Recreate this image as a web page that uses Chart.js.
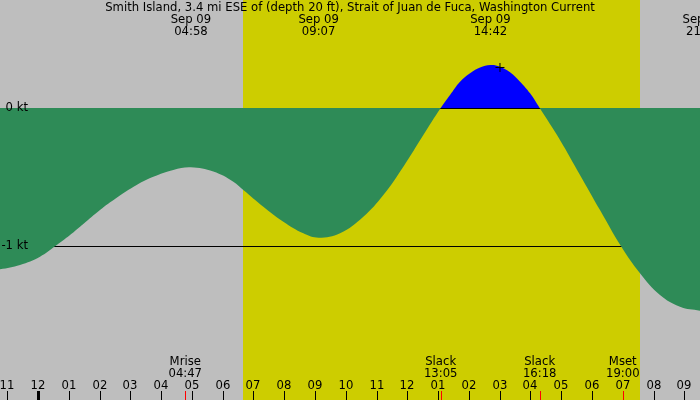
<!DOCTYPE html>
<html>
<head>
<meta charset="utf-8">
<title>Smith Island Current</title>
<script src="https://cdn.jsdelivr.net/npm/chart.js@4/dist/chart.umd.min.js"></script>
<style>
  html, body { margin: 0; padding: 0; background: #bebebe; }
  #wrap { width: 700px; height: 400px; position: relative; }
</style>
</head>
<body>
<div id="wrap"><canvas id="currentChart"></canvas></div>
<script>
// Current readings (hours after midnight Sep 09, knots; flood positive)
var currentHours = [-1.8, -1.237, -0.587, 0.063, 0.55, 1.038, 1.47, 2.012, 2.555, 3.312, 3.745, 4.395, 4.967, 5.695, 6.345, 6.67, 7.32, 7.97, 8.62, 9.117, 9.813, 10.57, 11.22, 11.87, 12.52, 13.083, 13.387, 13.712, 14.037, 14.362, 14.7, 15.012, 15.337, 15.662, 15.988, 16.3, 16.96, 17.61, 18.26, 18.945, 19.56, 20.21, 20.86, 21.51, 21.6, 22.2];
var currentKnots = [-1.18, -1.166, -1.135, -1.075, -1.0, -0.918, -0.838, -0.737, -0.649, -0.543, -0.497, -0.448, -0.429, -0.46, -0.533, -0.593, -0.714, -0.822, -0.906, -0.938, -0.906, -0.786, -0.629, -0.424, -0.195, 0.0, 0.094, 0.19, 0.251, 0.292, 0.311, 0.299, 0.258, 0.19, 0.106, 0.0, -0.231, -0.484, -0.738, -1.0, -1.195, -1.352, -1.437, -1.466, -1.47, -1.46];

// hour axis
var hourTicks = [-1, 0, 1, 2, 3, 4, 5, 6, 7, 8, 9, 10, 11, 12, 13, 14, 15, 16, 17, 18, 19, 20, 21];
var hourLabels = ['11', '12', '01', '02', '03', '04', '05', '06', '07', '08', '09', '10', '11', '12', '01', '02', '03', '04', '05', '06', '07', '08', '09'];

// knot reference lines
var knotLines = [0, -1];
var knotLabels = ['0 kt', '-1 kt'];

// max/min times shown along the top
var extremeHours = [4.967, 9.117, 14.7, 21.6];
var extremeDates = ['Sep 09', 'Sep 09', 'Sep 09', 'Sep 09'];
var extremeClock = ['04:58', '09:07', '14:42', '21:36'];

// slack / moon events along the bottom
var eventHours = [4.783, 13.083, 16.3, 19.0];
var eventNames = ['Mrise', 'Slack', 'Slack', 'Mset'];
var eventClock = ['04:47', '13:05', '16:18', '19:00'];

// daylight
var sunrise = 6.67;
var sunset = 19.56;

// marker on the flood
var markerHour = 15.01;
var markerKnots = 0.293;

var title = 'Smith Island, 3.4 mi ESE of (depth 20 ft), Strait of Juan de Fuca, Washington Current';

var FONT = '11.65px "DejaVu Sans"';

var backdrop = {
    id: 'backdrop',
    beforeDraw: function(chart) {
        var ctx = chart.ctx, x = chart.scales.x;
        ctx.save();
        ctx.fillStyle = '#bebebe';
        ctx.fillRect(0, 0, chart.width, chart.height);
        var x1 = Math.round(x.getPixelForValue(sunrise)), x2 = Math.round(x.getPixelForValue(sunset));
        ctx.fillStyle = '#cdcd00';
        ctx.fillRect(x1, 0, x2 - x1, chart.height);
        ctx.restore();
    },
    beforeDatasetsDraw: function(chart) {
        // reference lines sit under the fill, like the original
        var ctx = chart.ctx, y = chart.scales.y;
        ctx.save();
        ctx.fillStyle = '#000';
        knotLines.forEach(function(v) {
            ctx.fillRect(0, Math.round(y.getPixelForValue(v)), chart.width, 1);
        });
        ctx.restore();
    },
    afterDatasetsDraw: function(chart) {
        var ctx = chart.ctx, x = chart.scales.x, y = chart.scales.y;
        var h = chart.height;
        ctx.save();
        ctx.font = FONT;
        ctx.fillStyle = '#000';
        ctx.textBaseline = 'middle';

        // title
        ctx.textAlign = 'center';
        ctx.fillText(title, chart.width / 2, 8);

        // extremes
        extremeHours.forEach(function(t, i) {
            var px = x.getPixelForValue(t);
            ctx.fillText(extremeDates[i], px, 20);
            ctx.fillText(extremeClock[i], px, 32);
        });

        // knot labels
        ctx.textAlign = 'right';
        knotLines.forEach(function(v, i) {
            ctx.fillText(knotLabels[i], 28, y.getPixelForValue(v));
        });

        // hour ticks
        ctx.textAlign = 'center';
        hourTicks.forEach(function(t, i) {
            var px = Math.round(x.getPixelForValue(t));
            ctx.fillStyle = '#000';
            ctx.fillText(hourLabels[i], px, 386);
            if (t % 24 === 0) {
                ctx.fillRect(px - 1, 391, 3, h - 391);
            } else {
                ctx.fillRect(px, 391, 1, h - 391);
            }
        });

        // events
        eventHours.forEach(function(t, i) {
            var px = x.getPixelForValue(t);
            ctx.fillStyle = '#000';
            ctx.fillText(eventNames[i], px, 362);
            ctx.fillText(eventClock[i], px, 374);
            ctx.fillStyle = '#ff0000';
            ctx.fillRect(Math.round(px), 391, 1, h - 391);
        });
        ctx.restore();
    }
};

document.addEventListener('DOMContentLoaded', function() {
    var ctx = document.getElementById('currentChart').getContext('2d');

    var points = currentHours.map(function(t, i) {
        return { x: t, y: currentKnots[i] };
    });

    // 0 kt sits at y=108 and 1 kt spans 138.3 px in the reference
    var pxPerKt = 138.3;
    var yMax = 108 / pxPerKt;
    var yMin = -(400 - 108) / pxPerKt;

    var myChart = new Chart(ctx, {
        type: 'line',
        data: {
            datasets: [{
                label: 'Current',
                data: points,
                borderColor: 'transparent',
                borderWidth: 0,
                pointRadius: 0,
                tension: 0.4,
                fill: { target: 'origin', above: '#0000ff', below: '#2e8b57' }
            }, {
                label: 'Marker',
                data: [{ x: markerHour, y: markerKnots }],
                order: -1,
                showLine: false,
                pointStyle: 'cross',
                pointRadius: 4.5,
                borderColor: '#000',
                borderWidth: 1,
                fill: false
            }]
        },
        options: {
            responsive: true,
            maintainAspectRatio: false,
            animation: false,
            layout: { padding: 0, autoPadding: false },
            plugins: {
                legend: { display: false },
                tooltip: { enabled: false }
            },
            scales: {
                x: { type: 'linear', min: -1.237, max: 21.51, display: false },
                y: { type: 'linear', min: yMin, max: yMax, display: false }
            }
        },
        plugins: [backdrop]
    });
});
</script>
</body>
</html>
